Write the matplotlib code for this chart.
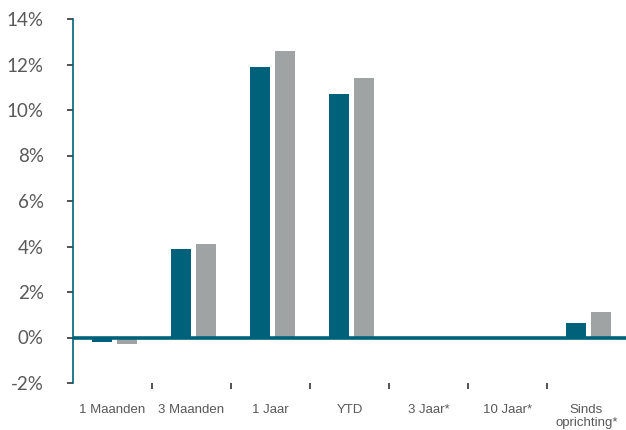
import numpy as np
import matplotlib.pyplot as plt
from matplotlib.ticker import FixedLocator

# data
categories = ['1 Maanden', '3 Maanden', '1 Jaar', 'YTD', '3 Jaar*', '10 Jaar*', 'Sinds\noprichting*']
fund = [-0.2, 3.9, 11.9, 10.7, 0.0, 0.0, 0.65]
benchmark = [-0.3, 4.1, 12.6, 11.4, 0.0, 0.0, 1.1]
yticks = [-2, 0, 2, 4, 6, 8, 10, 12, 14]

teal = '#00627a'
grey = '#a0a3a4'
txt = '#595959'

plt.rcParams['font.family'] = ['Liberation Sans', 'DejaVu Sans']

fig = plt.figure(figsize=(6.26, 4.30), dpi=100)
ax = fig.add_axes([73 / 626, 1 - 383 / 430, 1 - 73 / 626, (383 - 19) / 430])

x = np.arange(len(categories))
w = 0.255
ax.bar(x - 0.133, fund, width=w, color=teal, zorder=2)
ax.bar(x + 0.184, benchmark, width=w, color=grey, zorder=2)
ax.axhline(0, color=teal, lw=2.6, zorder=3)

ax.set_xlim(-0.5, len(categories) - 0.5)
ax.set_ylim(-2, 14)

ax.set_yticks(yticks)
ax.set_yticklabels([f'{v}%' for v in yticks], family=['Lato', 'DejaVu Sans'], fontsize=13.5, color=txt)
ax.tick_params(axis='y', length=4, width=1.3, color='#444444', pad=17)

ax.set_xticks(x)
ax.set_xticklabels(categories, fontsize=9.5, color=txt, linespacing=1.1)
ax.tick_params(axis='x', which='major', length=0, pad=15)
ax.xaxis.set_minor_locator(FixedLocator(np.arange(0.5, len(categories) - 1, 1)))
ax.tick_params(axis='x', which='minor', length=4, width=1.3, color='#444444', direction='out')

for s in ['top', 'right', 'bottom']:
    ax.spines[s].set_visible(False)
ax.spines['left'].set_color(teal)
ax.spines['left'].set_linewidth(1.2)

fig.savefig('out.png', dpi=100)
